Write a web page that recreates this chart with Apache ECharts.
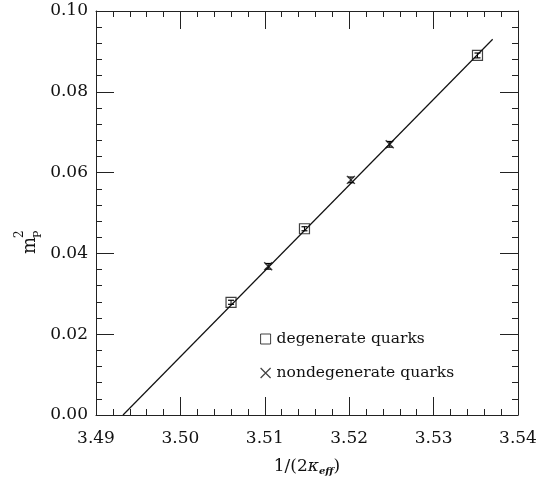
<!DOCTYPE html>
<html>
<head>
<meta charset="utf-8">
<script src="https://cdn.jsdelivr.net/npm/echarts@6/dist/echarts.min.js"></script>
<style>
html,body{margin:0;padding:0;background:#fff;}
#c{width:547px;height:481px;}
</style>
</head>
<body>
<div id="c"></div>
<script>
// Data
const degX = [3.5060, 3.5147, 3.5352];
const degY = [0.0279, 0.0461, 0.0890];
const degErr = [0.0005, 0.0005, 0.0006];

const nondegX = [3.5104, 3.5202, 3.5248];
const nondegY = [0.0368, 0.0582, 0.0670];
const nondegErr = [0.0007, 0.0007, 0.0007];

const fitX = [3.4932, 3.5370];
const fitY = [0.0, 0.0930];

const xTicks = [3.49, 3.50, 3.51, 3.52, 3.53, 3.54];
const yTicks = [0.00, 0.02, 0.04, 0.06, 0.08, 0.10];

const FONT = 'DejaVu Serif';
const chart = echarts.init(document.getElementById('c'), null, {renderer: 'canvas'});

const crossPath = 'path://M0,0L10,10M10,0L0,10';

function pairs(xs, ys) { return xs.map((x, i) => [x, ys[i]]); }
function errData(xs, ys, es) { return xs.map((x, i) => [x, ys[i] - es[i], ys[i] + es[i]]); }

function errRender(params, api) {
  const x = api.value(0);
  const lo = api.coord([x, api.value(1)]);
  const hi = api.coord([x, api.value(2)]);
  const w = 3;
  return {
    type: 'group',
    children: [
      {type: 'line', shape: {x1: lo[0], y1: lo[1], x2: hi[0], y2: hi[1]}, style: {stroke: '#000', lineWidth: 1}},
      {type: 'line', shape: {x1: lo[0] - w, y1: lo[1], x2: lo[0] + w, y2: lo[1]}, style: {stroke: '#000', lineWidth: 1.2}},
      {type: 'line', shape: {x1: hi[0] - w, y1: hi[1], x2: hi[0] + w, y2: hi[1]}, style: {stroke: '#000', lineWidth: 1.2}}
    ]
  };
}

const axisCommon = {
  axisLine: {show: true, onZero: false, lineStyle: {color: '#222', width: 1}},
  axisTick: {show: true, inside: true, length: 18, lineStyle: {color: '#222', width: 1}},
  minorTick: {show: true, splitNumber: 5, length: 6, lineStyle: {color: '#222', width: 1}},
  splitLine: {show: false}
};

const option = {
  backgroundColor: '#fff',
  animation: false,
  grid: {left: 96, right: 29, top: 11, bottom: 60},
  xAxis: [
    Object.assign({
      type: 'value', min: 3.49, max: 3.54, interval: 0.01, position: 'bottom',
      axisLabel: {color: '#111', fontFamily: FONT, fontSize: 17, margin: 15,
        formatter: v => v.toFixed(2)},
      name: '1/(2{k|κ}{sub|eff})', nameLocation: 'middle', nameGap: 42,
      nameTextStyle: {color: '#111', fontFamily: FONT, fontSize: 17,
        rich: {
          k: {fontFamily: FONT, fontSize: 17, fontStyle: 'italic', color: '#111'},
          sub: {fontFamily: FONT, fontSize: 10, fontStyle: 'italic', fontWeight: 'bold', color: '#111', padding: [9, 0, 0, 0]}
        }}
    }, axisCommon),
    Object.assign({
      type: 'value', min: 3.49, max: 3.54, interval: 0.01, position: 'top',
      axisLabel: {show: false}
    }, axisCommon)
  ],
  yAxis: [
    Object.assign({
      type: 'value', min: 0, max: 0.10, interval: 0.02, position: 'left',
      axisLabel: {color: '#111', fontFamily: FONT, fontSize: 17, margin: 8,
        formatter: v => v.toFixed(2)}
    }, axisCommon),
    Object.assign({
      type: 'value', min: 0, max: 0.10, interval: 0.02, position: 'right',
      axisLabel: {show: false}
    }, axisCommon)
  ],
  legend: {
    orient: 'vertical', left: 255, top: 326, itemGap: 18, itemWidth: 10, itemHeight: 10,
    textStyle: {fontFamily: FONT, fontSize: 15.5, color: '#111', padding: [0, 0, 0, 1]},
    data: [
      {name: 'degenerate quarks', icon: 'rect', itemStyle: {color: 'transparent', borderColor: '#111', borderWidth: 1}},
      {name: 'nondegenerate quarks', icon: crossPath, itemStyle: {color: 'transparent', borderColor: '#111', borderWidth: 1.2}}
    ]
  },
  graphic: [
    {
      type: 'group', x: 39, y: 254, rotation: Math.PI / 2,
      children: [
        {type: 'text', x: 0, y: 0, style: {text: 'm', font: '18px "DejaVu Serif"', fill: '#111', textVerticalAlign: 'bottom'}},
        {type: 'text', x: 16, y: 5, style: {text: 'P', font: '11px "DejaVu Serif"', fill: '#111', textVerticalAlign: 'bottom'}},
        {type: 'text', x: 16, y: -13, style: {text: '2', font: '12px "DejaVu Serif"', fill: '#111', textVerticalAlign: 'bottom'}}
      ]
    }
  ],
  series: [
    {
      type: 'line', name: 'fit', data: pairs(fitX, fitY), showSymbol: false, symbol: 'none',
      lineStyle: {color: '#111', width: 1.2}, silent: true, z: 1
    },
    {
      type: 'custom', name: 'degErr', renderItem: errRender, data: errData(degX, degY, degErr), z: 2, silent: true
    },
    {
      type: 'custom', name: 'nondegErr', renderItem: errRender, data: errData(nondegX, nondegY, nondegErr), z: 2, silent: true
    },
    {
      type: 'scatter', name: 'degenerate quarks', data: pairs(degX, degY), symbol: 'rect', symbolSize: 10,
      itemStyle: {color: 'transparent', borderColor: '#111', borderWidth: 1.2}, z: 3
    },
    {
      type: 'scatter', name: 'nondegenerate quarks', data: pairs(nondegX, nondegY), symbol: crossPath, symbolSize: 8,
      itemStyle: {color: 'transparent', borderColor: '#111', borderWidth: 1.4}, z: 3
    }
  ]
};
chart.setOption(option);
</script>
</body>
</html>
